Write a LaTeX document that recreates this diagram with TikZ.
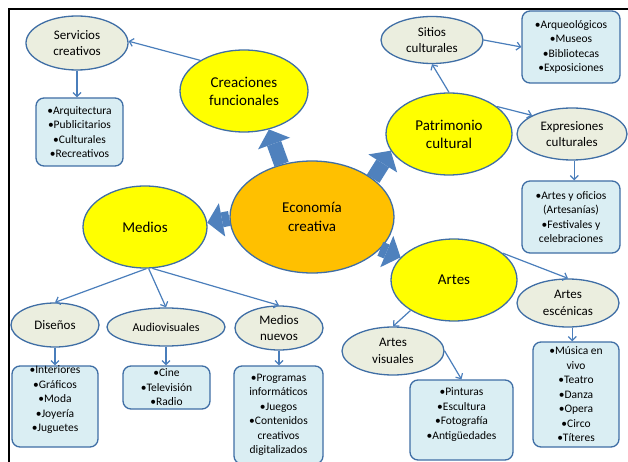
\documentclass[tikz,border=0pt]{standalone}
\usepackage{fontspec}
\setmainfont{Carlito}
\usetikzlibrary{shapes.geometric,arrows.meta}
\definecolor{bord}{HTML}{3F6EA5}
\definecolor{lineblue}{HTML}{4A7EBB}
\definecolor{blk}{HTML}{4F81BD}
\definecolor{ylw}{HTML}{FFFF00}
\definecolor{org}{HTML}{FFC000}
\definecolor{sage}{HTML}{EBEEDF}
\definecolor{boxb}{HTML}{DAEEF3}
\begin{document}
\begin{tikzpicture}[x=1pt,y=-1pt,
 ell/.style={ellipse,draw=bord,line width=1.3pt,inner sep=0pt,align=center},
 big/.style={ell,fill=ylw,font=\fontsize{15}{18}\selectfont},
 small/.style={ell,fill=sage,font=\fontsize{13}{16.5}\selectfont},
 listbox/.style={draw=bord,line width=1.3pt,fill=boxb,rounded corners=8pt,inner sep=0pt,align=center,font=\fontsize{11.5}{14.5}\selectfont},
 ltext/.style={align=center,inner sep=0pt,font=\fontsize{11.5}{14.5}\selectfont},
 link/.style={draw=lineblue,line width=1.2pt,-{Straight Barb[length=4pt,width=8pt]}},
 fat/.style={draw=blk,line width=15pt,-{Triangle[length=15pt,width=34pt,line width=0pt]}}
]
\useasboundingbox (0,0) rectangle (628,462);
\draw[line width=1.6pt] (9,462) -- (9,9) -- (628,9);

\node[small,minimum width=102pt,minimum height=54pt] (serv) at (77,43) {Servicios\\creativos};
\node[big,minimum width=128pt,minimum height=82pt] (crea) at (244,91) {Creaciones\\funcionales};
\node[small,minimum width=102pt,minimum height=47pt] (sitios) at (432,40) {Sitios\\culturales};
\node[listbox,minimum width=98pt,minimum height=72pt] (arq) at (571,47) {•Arqueológicos\\•Museos\\•Bibliotecas\\•Exposiciones};
\node[big,minimum width=126pt,minimum height=82pt] (patri) at (449,134) {Patrimonio\\cultural};
\node[small,minimum width=110pt,minimum height=52pt] (expres) at (572,134) {Expresiones\\culturales};
\node[listbox,minimum width=98pt,minimum height=72pt] (artbox) at (571,217) {•Artes y oficios\\(Artesanías)\\•Festivales y\\celebraciones};
\node[listbox,minimum width=87pt,minimum height=68pt] (arqbox) at (79.5,132) {•Arquitectura\\•Publicitarios\\•Culturales\\•Recreativos};
\node[ell,fill=org,font=\fontsize{15}{19}\selectfont,minimum width=164pt,minimum height=112pt] (eco) at (312,217) {Economía\\creativa};
\node[big,minimum width=124pt,minimum height=82pt] (medios) at (145,227) {Medios};
\node[big,minimum width=126pt,minimum height=82pt] (artes) at (454,280) {Artes};
\node[small,minimum width=102pt,minimum height=48pt] (escen) at (568,303) {Artes\\escénicas};
\node[small,minimum width=102pt,minimum height=48pt] (visu) at (393,351) {Artes\\visuales};
\node[small,minimum width=88pt,minimum height=44pt] (dis) at (55,325) {Diseños};
\node[small,font=\fontsize{12}{15}\selectfont,minimum width=118pt,minimum height=38pt] (audio) at (166,327) {Audiovisuales};
\node[small,minimum width=88pt,minimum height=44pt] (nuevos) at (279,328) {Medios\\nuevos};

\node[listbox,minimum width=86pt,minimum height=81pt] (disbox) at (55,406.5) {};
\node[ltext] (distext) at (55,400) {•Interiores\\•Gráficos\\•Moda\\•Joyería\\•Juguetes};
\node[listbox,minimum width=87pt,minimum height=43pt] (cinebox) at (166.5,387.5) {•Cine\\•Televisión\\•Radio};
\node[listbox,minimum width=89pt,minimum height=98pt] (progbox) at (278.5,415) {•Programas\\informáticos\\•Juegos\\•Contenidos\\creativos\\digitalizados};
\node[listbox,minimum width=103pt,minimum height=80pt] (pintbox) at (461.5,420) {};
\node[ltext] (pinttext) at (461.5,414.5) {•Pinturas\\•Escultura\\•Fotografía\\•Antigüedades};
\node[listbox,minimum width=86pt,minimum height=105pt] (musbox) at (576,394.5) {•Música en\\vivo\\•Teatro\\•Danza\\•Opera\\•Circo\\•Títeres};

% block arrows
\draw[fat] (eco.120) -- (crea.-57);
\draw[fat] (eco.181) -- (medios.4);
\draw[fat] (eco.32) -- (patri.196);
\draw[fat] (eco.-25) -- (artes.157);

% thin connectors
\draw[link] (crea.145) -- (serv.2);
\draw[link] (serv.south) -- (serv.south |- arqbox.north);
\draw[link] (patri.north) -- (sitios.south);
\draw[link] (sitios.east) -- (arq.west);
\draw[link] (patri.30) -- (expres.155);
\draw[link] (expres.-85) -- (expres.-85 |- artbox.north);
\draw[link] (artes.29) -- (escen.north);
\draw[link] (escen.-80) -- (escen.-80 |- musbox.north);
\draw[link] (artes.215) -- (visu.north);
\draw[link] (visu.east) -- (pintbox.north);
\draw[link] (medios.-88) -- (dis.north);
\draw[link] (medios.-85) -- (audio.north);
\draw[link] (medios.-80) -- (nuevos.north);
\draw[link] (dis.south) -- (disbox.north);
\draw[link] (audio.south) -- (audio.south |- cinebox.north);
\draw[link] (nuevos.south) -- (nuevos.south |- progbox.north);
\end{tikzpicture}
\end{document}
